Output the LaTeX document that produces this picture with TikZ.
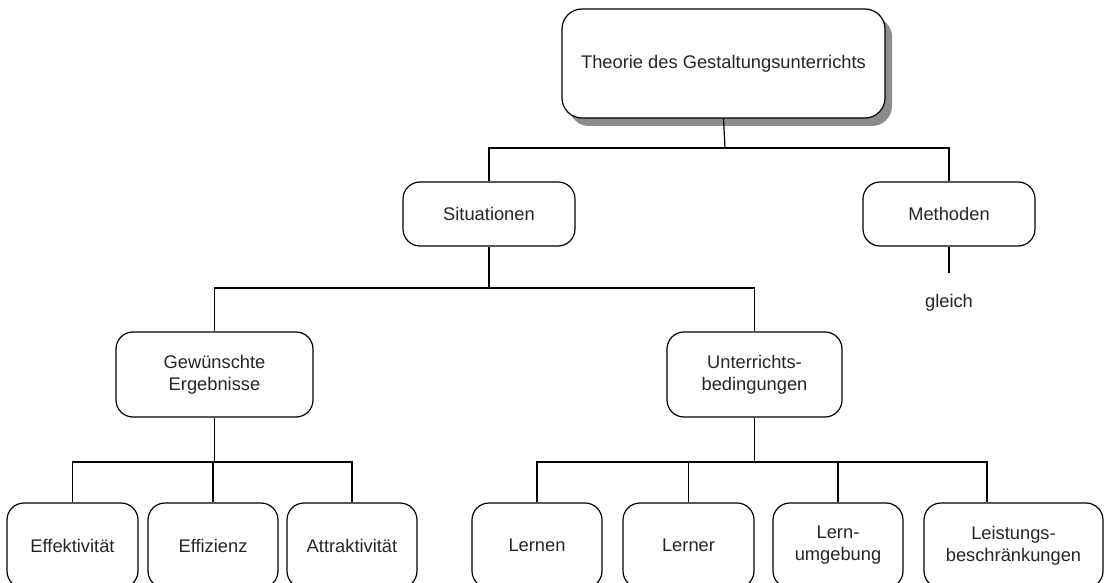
\documentclass[tikz,border=0pt]{standalone}
\usepackage{fontspec}
\setmainfont{Liberation Sans}
\usetikzlibrary{shadows}
\begin{document}
\begin{tikzpicture}[x=1pt,y=-1pt,
  box/.style={draw=black, line width=1.2pt, rounded corners=17pt, fill=white,
    align=center, text=black!85, inner sep=0pt,
    font=\fontsize{18.3}{22}\selectfont},
  conn/.style={draw=black, line width=1.2pt},
  lbl/.style={text=black!85, font=\fontsize{18.3}{22}\selectfont, inner sep=0pt}]
\useasboundingbox (0,0) rectangle (1104,583);
\clip (0,0) rectangle (1104,583);
\fill[white] (0,0) rectangle (1104,583);
% top
\node[box, minimum width=323pt, minimum height=109pt, rounded corners=20pt,
  drop shadow={shadow xshift=7pt, shadow yshift=-8pt, fill=black!50, opacity=0.9}]
  (top) at (723.5,63.5) {Theorie des Gestaltungsunterrichts};
% level 2
\node[box, minimum width=172pt, minimum height=64pt] (sit) at (489,214) {Situationen};
\node[box, minimum width=172pt, minimum height=64pt] (meth) at (949,214) {Methoden};
\node[lbl] (gleich) at (949,303) {gleich};
% level 3
\node[box, minimum width=197pt, minimum height=85pt] (gew) at (214.5,374.5) {Gewünschte\\Ergebnisse};
\node[box, minimum width=175pt, minimum height=85pt] (unt) at (754.5,374.5) {Unterrichts-\\bedingungen};
% level 4
\node[box, minimum width=131pt, minimum height=85pt] (eff) at (72.5,545.5) {Effektivität};
\node[box, minimum width=130pt, minimum height=85pt] (effz) at (213,545.5) {Effizienz};
\node[box, minimum width=130pt, minimum height=85pt] (attr) at (352,545.5) {Attraktivität};
\node[box, minimum width=130pt, minimum height=85pt] (lernen) at (537,545.5) {Lernen};
\node[box, minimum width=131pt, minimum height=85pt] (lerner) at (688.5,545.5) {Lerner};
\node[box, minimum width=130pt, minimum height=85pt] (lu) at (838,545.5) {Lern-\\umgebung};
\node[box, minimum width=179pt, minimum height=85pt] (lei) at (1013.5,545.5) {Leistungs-\\beschränkungen};
% junctions
\coordinate (j1) at (725,148);
\coordinate (j2) at (489,288);
\coordinate (g1) at (949,273);
\coordinate (j3) at (214.5,462);
\coordinate (j4) at (754.5,462);
% connectors
\draw[conn] (top.south) -- (j1);
\draw[conn] (sit.north) |- (j1) -| (meth.north);
\draw[conn] (meth.south) -- (g1);
\draw[conn] (sit.south) -- (j2);
\draw[conn] (gew.north) |- (j2) -| (unt.north);
\draw[conn] (gew.south) -- (j3);
\draw[conn] (eff.north) |- (j3) -| (attr.north);
\draw[conn] (effz.north) -- (effz.north |- j3);
\draw[conn] (unt.south) -- (j4);
\draw[conn] (lernen.north) |- (j4) -| ([xshift=-26.5pt]lei.north);
\draw[conn] (lerner.north) -- (lerner.north |- j4);
\draw[conn] (lu.north) -- (lu.north |- j4);
\end{tikzpicture}
\end{document}
